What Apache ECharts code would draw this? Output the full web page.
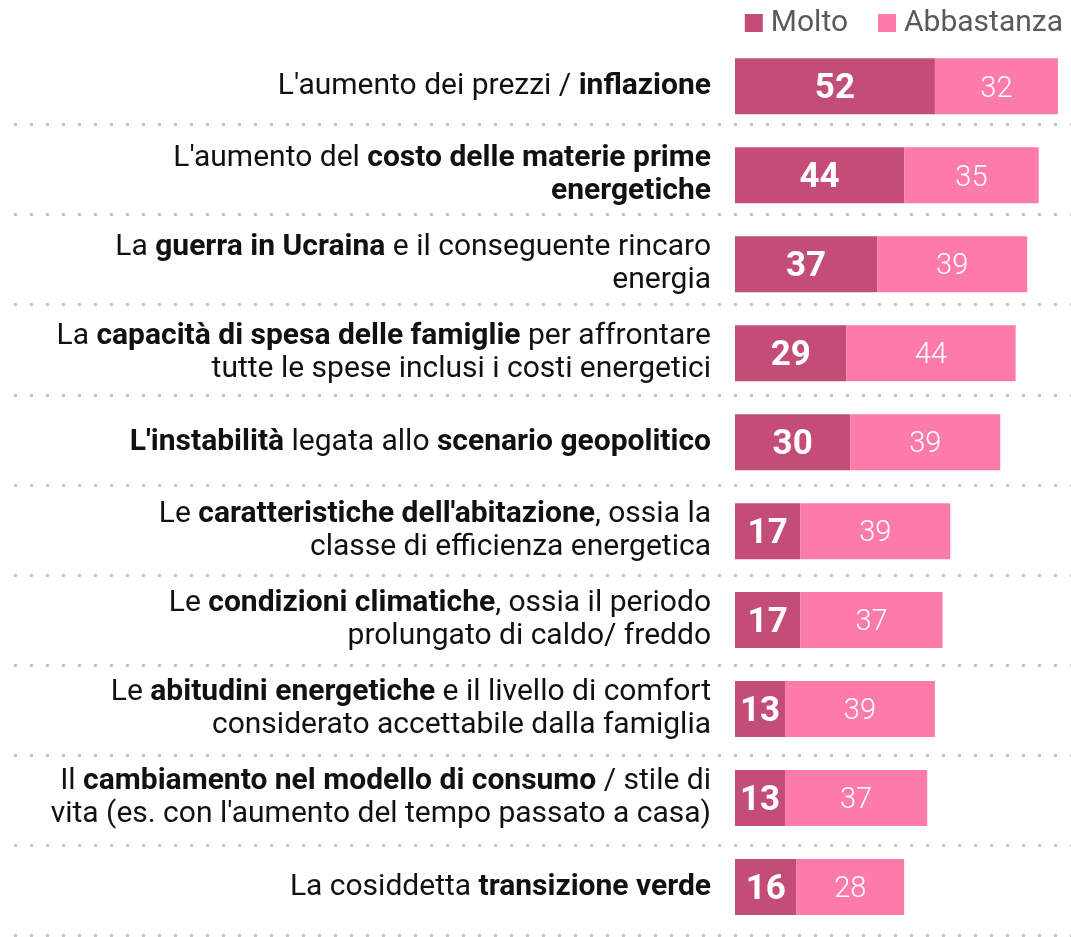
<!DOCTYPE html>
<html>
<head>
<meta charset="utf-8">
<script src="https://cdn.jsdelivr.net/npm/echarts@6/dist/echarts.min.js"></script>
<style>
  html, body { margin: 0; padding: 0; background: #fff; }
  #chart { width: 1071px; height: 937px; }
</style>
</head>
<body>
<div id="chart"></div>
<script>
// categories, with {b|...} marking bold parts
const categories = [
  "L'aumento dei prezzi / {b|inflazione}",
  "L'aumento del {b|costo delle materie prime}\n{b|energetiche}",
  "La {b|guerra in Ucraina} e il conseguente rincaro\nenergia",
  "La {b|capacità di spesa delle famiglie} per affrontare\ntutte le spese inclusi i costi energetici",
  "{b|L'instabilità} legata allo {b|scenario geopolitico}",
  "Le {b|caratteristiche dell'abitazione}, ossia la\nclasse di efficienza energetica",
  "Le {b|condizioni climatiche}, ossia il periodo\nprolungato di caldo/ freddo",
  "Le {b|abitudini energetiche} e il livello di comfort\nconsiderato accettabile dalla famiglia",
  "Il {b|cambiamento nel modello di consumo} / stile di\nvita (es. con l'aumento del tempo passato a casa)",
  "La cosiddetta {b|transizione verde}"
];
const molto = [52, 44, 37, 29, 30, 17, 17, 13, 13, 16];
const abbastanza = [32, 35, 39, 44, 39, 39, 37, 39, 37, 28];
const separatorTicks = [0, 9];

const FONT = 'Roboto, "Noto Sans", sans-serif';
const chart = echarts.init(document.getElementById('chart'));

// each rich text line is split into tokens; wrap plain parts in {n|..}
const toRich = s => s.split('\n').map(line =>
  line.split(/(\{b\|[^}]*\})/).filter(p => p).map(p => p.startsWith('{b|') ? p : '{n|' + p + '}').join('')
).join('\n');

chart.setOption({
  animation: false,
  legend: {
    right: 3, top: 3,
    itemWidth: 18, itemHeight: 18, itemGap: 30,
    icon: 'rect',
    textStyle: { fontFamily: FONT, fontSize: 30, color: '#5a5a5a', padding: [0, 0, 0, 3] },
    data: ['Molto', 'Abbastanza']
  },
  grid: [
    { left: 735, right: 0, top: 41.8, height: 889.7 },
    { left: 14, right: 0, top: 124.3, height: 811.4 }
  ],
  xAxis: [
    { type: 'value', gridIndex: 0, min: 0, max: 87.4, show: false },
    { type: 'value', gridIndex: 1, min: 0, max: 1, show: false }
  ],
  yAxis: [
    {
      type: 'category', gridIndex: 0, inverse: true,
      data: categories.map(toRich),
      axisLine: { show: false }, axisTick: { show: false }, splitLine: { show: false },
      axisLabel: {
        margin: 24,
        lineHeight: 33,
        rich: {
          n: { fontFamily: FONT, fontSize: 30, color: '#111', lineHeight: 33 },
          b: { fontFamily: FONT, fontSize: 30, color: '#111', fontWeight: 'bold', lineHeight: 33 }
        }
      }
    },
    {
      type: 'value', gridIndex: 1, min: separatorTicks[0], max: separatorTicks[1], interval: 1,
      axisLine: { show: false }, axisTick: { show: false }, axisLabel: { show: false },
      splitLine: { show: true, lineStyle: { color: '#c4c4c4', width: 3, type: [3, 13] } }
    }
  ],
  series: [
    {
      name: 'Molto', type: 'bar', stack: 'tot', barWidth: 56,
      data: molto,
      itemStyle: { color: '#c34d77' },
      label: { show: true, position: 'inside', offset: [0, 3], color: '#fff', fontFamily: FONT, fontSize: 35, fontWeight: 'bold' }
    },
    {
      name: 'Abbastanza', type: 'bar', stack: 'tot', barWidth: 56,
      data: abbastanza,
      itemStyle: { color: '#fd7bab' },
      label: { show: true, position: 'inside', offset: [0, 3], color: '#fff', fontFamily: FONT, fontSize: 29, fontWeight: 300 }
    }
  ]
});
</script>
</body>
</html>
